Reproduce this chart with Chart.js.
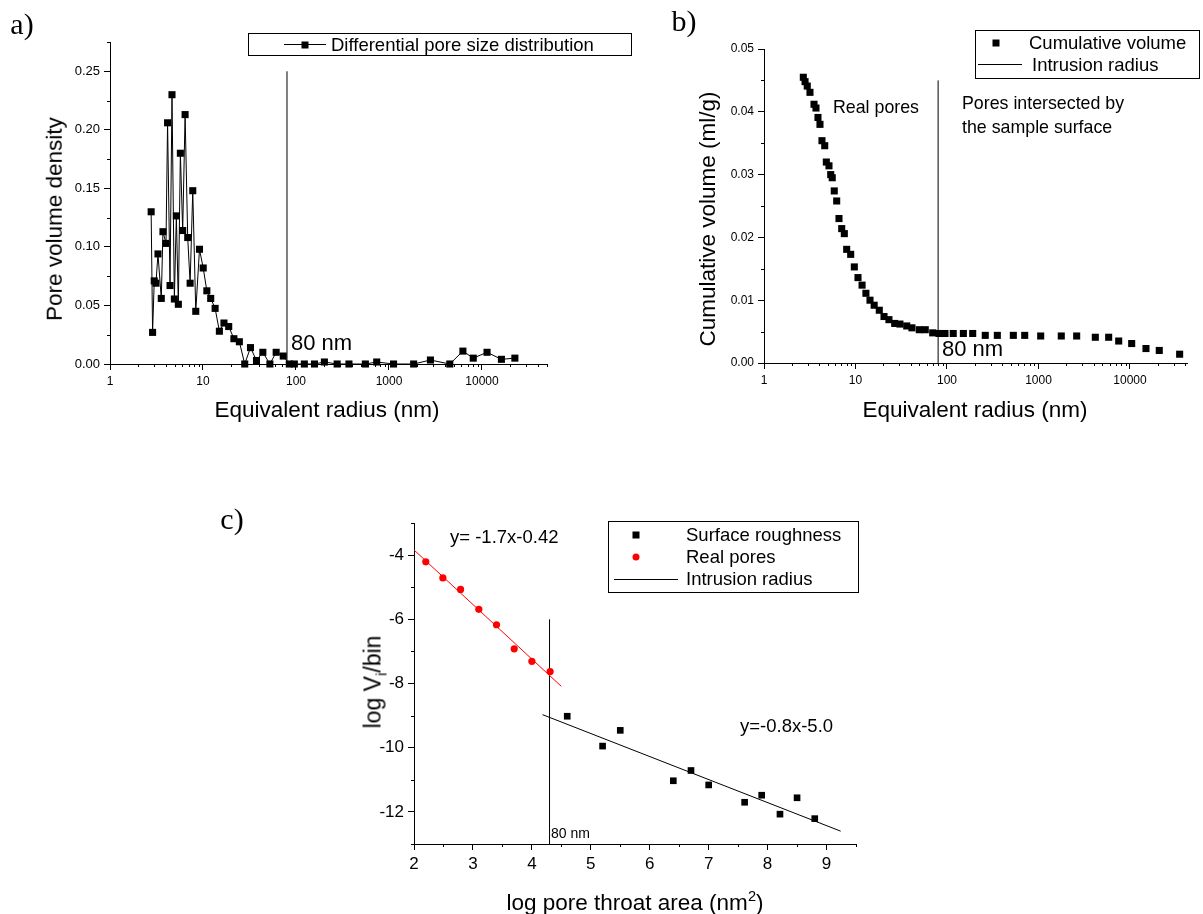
<!DOCTYPE html>
<html>
<head>
<meta charset="utf-8">
<script src="https://cdn.jsdelivr.net/npm/chart.js@4.4.1/dist/chart.umd.min.js"></script>
<style>
  body { margin: 0; background: #fff; }
  #page { position: relative; width: 1203px; height: 914px; overflow: hidden;
          font-family: "Liberation Sans", Arial, sans-serif; color: #000; }
  canvas { position: absolute; }
  .t { position: absolute; white-space: nowrap; line-height: 1; }
  .c { transform: translate(-50%, -50%); }
  .l { transform: translateY(-50%); }
  .rot { transform: translate(-50%, -50%) rotate(-90deg); }
  .panel { font-family: "Liberation Serif", "Times New Roman", serif; font-size: 30px; }
  .box { position: absolute; border: 1px solid #000; box-sizing: border-box; }
  .sq { position: absolute; width: 7px; height: 7px; background: #000; transform: translate(-50%, -50%); }
  .dot { position: absolute; width: 7px; height: 7px; border-radius: 50%; background: #f00; transform: translate(-50%, -50%); }
  .ln { position: absolute; height: 1px; background: #000; }
  sub, sup { font-size: 65%; line-height: 0; }
</style>
</head>
<body>
<div id="page">
  <canvas id="chartA" width="600" height="440" style="left:0;top:0"></canvas>
  <canvas id="chartB" width="603" height="440" style="left:600px;top:0"></canvas>
  <canvas id="chartC" width="700" height="434" style="left:200px;top:480px"></canvas>

  <!-- panel letters -->
  <div class="t c panel" style="left:22px;top:24px">a)</div>
  <div class="t c panel" style="left:684px;top:21px">b)</div>
  <div class="t c panel" style="left:232px;top:519px">c)</div>

  <!-- axis titles -->
  <div class="t rot" style="left:55px;top:219px;font-size:22.5px">Pore volume density</div>
  <div class="t c" style="left:327px;top:410px;font-size:22.5px">Equivalent radius (nm)</div>
  <div class="t rot" style="left:708px;top:219px;font-size:22.5px">Cumulative volume (ml/g)</div>
  <div class="t c" style="left:975px;top:410px;font-size:22.5px">Equivalent radius (nm)</div>
  <div class="t rot" style="left:373px;top:682px;font-size:23px">log V<sub>i</sub>/bin</div>
  <div class="t c" style="left:635px;top:903px;font-size:22.5px">log pore throat area (nm<sup>2</sup>)</div>

  <!-- annotations -->
  <div class="t l" style="left:291px;top:343px;font-size:22px">80 nm</div>
  <div class="t l" style="left:942px;top:349px;font-size:22px">80 nm</div>
  <div class="t l" style="left:833px;top:108px;font-size:17.8px">Real pores</div>
  <div class="t l" style="left:962px;top:104px;font-size:17.8px">Pores intersected by</div>
  <div class="t l" style="left:962px;top:128px;font-size:17.8px">the sample surface</div>
  <div class="t l" style="left:450px;top:537px;font-size:18.5px">y= -1.7x-0.42</div>
  <div class="t l" style="left:740px;top:726px;font-size:18.5px">y=-0.8x-5.0</div>
  <div class="t l" style="left:551px;top:833px;font-size:14px">80 nm</div>

  <!-- legend a -->
  <div class="box" style="left:248px;top:33px;width:384px;height:23px"></div>
  <div class="ln" style="left:284px;top:44px;width:42px"></div>
  <div class="sq" style="left:305px;top:44.5px"></div>
  <div class="t l" style="left:331px;top:44.5px;font-size:18.5px">Differential pore size distribution</div>

  <!-- legend b -->
  <div class="box" style="left:975px;top:30px;width:225px;height:49px"></div>
  <div class="sq" style="left:996px;top:43px"></div>
  <div class="t l" style="left:1029px;top:43px;font-size:18.5px">Cumulative volume</div>
  <div class="ln" style="left:978px;top:64px;width:44px"></div>
  <div class="t l" style="left:1032px;top:65px;font-size:18.5px">Intrusion radius</div>

  <!-- legend c -->
  <div class="box" style="left:608px;top:521px;width:251px;height:72px"></div>
  <div class="sq" style="left:636px;top:535px"></div>
  <div class="t l" style="left:686px;top:535px;font-size:18.5px">Surface roughness</div>
  <div class="dot" style="left:636px;top:557px"></div>
  <div class="t l" style="left:686px;top:557px;font-size:18.5px">Real pores</div>
  <div class="ln" style="left:614px;top:579px;width:64px"></div>
  <div class="t l" style="left:686px;top:579px;font-size:18.5px">Intrusion radius</div>
</div>

<script>
const FONT = '"Liberation Sans", Arial, sans-serif';

// a) differential pore size distribution
const aRadius = [2.77, 2.87, 2.99, 3.12, 3.28, 3.56, 3.71, 4.00, 4.16, 4.42, 4.64, 4.92, 5.17, 5.43, 5.71,
  6.05, 6.42, 6.85, 7.27, 7.76, 8.36, 9.17, 10.05, 11.0, 12.1, 13.5, 15.0, 16.8, 18.9, 21.5, 24.6, 28.1,
  32.4, 37.6, 44.0, 52.4, 61.2, 72.9, 84.7, 96, 123, 158, 202, 277, 371, 557, 738, 1119, 1841, 2789,
  4506, 6233, 8054, 11330, 16170, 22570];
const aDensity = [0.130, 0.027, 0.071, 0.069, 0.094, 0.056, 0.113, 0.103, 0.206, 0.067, 0.230, 0.0555,
  0.1265, 0.051, 0.180, 0.114, 0.213, 0.108, 0.069, 0.148, 0.045, 0.098, 0.082, 0.0625, 0.056, 0.0475,
  0.028, 0.035, 0.032, 0.0216, 0.019, 0, 0.014, 0.003, 0.010, 0, 0.010, 0.0068, 0, 0, 0, 0, 0.0017, 0, 0,
  0, 0.0017, 0, 0, 0.0034, 0, 0.011, 0.005, 0.010, 0.004, 0.005];

// b) cumulative volume
const bRadius = [2.69, 2.81, 2.97, 3.18, 3.52, 3.70, 3.89, 4.09, 4.30, 4.61, 4.80, 5.13, 5.36, 5.57, 5.86,
  6.23, 6.60, 7.07, 7.55, 8.01, 8.86, 9.71, 10.65, 11.8, 13.0, 14.4, 16.0, 18.2, 20.5, 23.2, 26.8, 30.6,
  36.3, 41.4, 49.8, 57.9, 69.8, 81.8, 95.1, 117, 151, 191, 262, 355, 531, 707, 1057, 1775, 2615, 4180,
  5850, 7530, 10440, 14960, 20900, 34900];
const bVolume = [0.0455, 0.0448, 0.0441, 0.0431, 0.0412, 0.0406, 0.0391, 0.0380, 0.0354, 0.0346, 0.0320,
  0.0314, 0.0300, 0.0295, 0.0274, 0.0258, 0.0230, 0.0214, 0.0206, 0.0181, 0.0173, 0.0153, 0.0136, 0.0124,
  0.0111, 0.0100, 0.0092, 0.0084, 0.0074, 0.0069, 0.0063, 0.0062, 0.0059, 0.0056, 0.0053, 0.0053, 0.0048,
  0.0047, 0.0047, 0.0047, 0.0047, 0.0047, 0.0044, 0.0044, 0.0044, 0.0044, 0.0043, 0.0043, 0.0043, 0.0041,
  0.0041, 0.0035, 0.0031, 0.0023, 0.0020, 0.0014];

// c) log V / bin vs log pore throat area
const roughArea = [4.60, 5.20, 5.50, 6.40, 6.70, 7.00, 7.61, 7.90, 8.21, 8.50, 8.80];
const roughLogV = [-9.02, -9.95, -9.46, -11.03, -10.71, -11.16, -11.70, -11.48, -12.07, -11.56, -12.21];
const poreArea = [2.20, 2.49, 2.79, 3.10, 3.40, 3.70, 4.00, 4.31];
const poreLogV = [-4.21, -4.71, -5.07, -5.69, -6.17, -6.92, -7.31, -7.63];
const poreFitX = [2.0, 4.5];
const poreFitY = [-3.84, -8.09];
const roughFitX = [4.18, 9.24];
const roughFitY = [-8.97, -12.6];

// intrusion radius lines
const intrusionRadius = 80;
const aIntrusionY = [0, 0.25];
const bIntrusionY = [0, 0.045];
const cIntrusionX = 4.3;
const cIntrusionY = [-13, -6];

// tick labels
const radiusTicks = [1, 10, 100, 1000, 10000];
const densityTicks = [0, 0.05, 0.10, 0.15, 0.20, 0.25];
const densityMinor = [0.025, 0.075, 0.125, 0.175, 0.225, 0.275];
const volumeTicks = [0, 0.01, 0.02, 0.03, 0.04, 0.05];
const volumeMinor = [0.005, 0.015, 0.025, 0.035, 0.045];
const areaTicks = [2, 3, 4, 5, 6, 7, 8, 9];
const areaMinor = [2.5, 3.5, 4.5, 5.5, 6.5, 7.5, 8.5, 9.5];
const logVTicks = [-12, -10, -8, -6, -4];
const logVMinor = [-13, -11, -9, -7, -5, -3];

const pts = (xs, ys) => xs.map((x, i) => ({x: x, y: ys[i]}));
const vline = (x, ys) => ys.map(y => ({x: x, y: y}));

function logMinor(max) {
  const out = [];
  for (let d = 1; d <= max; d *= 10) {
    for (let k = 2; k <= 9; k++) if (k * d <= max) out.push(k * d);
  }
  return out;
}

// short minor ticks drawn with the chart's own scales
const minorTicks = {
  id: 'minorTicks',
  afterDraw(chart, args, opts) {
    const ctx = chart.ctx;
    ctx.save();
    ctx.strokeStyle = '#000';
    ctx.lineWidth = 1;
    ctx.beginPath();
    Object.keys(opts.scales || {}).forEach(id => {
      const s = chart.scales[id];
      opts.scales[id].forEach(v => {
        if (s.isHorizontal()) {
          const x = Math.round(s.getPixelForValue(v)) + 0.5;
          ctx.moveTo(x, s.top);
          ctx.lineTo(x, s.top + opts.length);
        } else {
          const y = Math.round(s.getPixelForValue(v)) + 0.5;
          ctx.moveTo(s.right - opts.length, y);
          ctx.lineTo(s.right, y);
        }
      });
    });
    ctx.stroke();
    ctx.restore();
  }
};

function axis(opts) {
  return {
    type: opts.type || 'linear',
    min: opts.min,
    max: opts.max,
    border: {display: true, color: '#000', width: 1},
    grid: {drawOnChartArea: false, drawTicks: true, tickLength: 6, color: '#000'},
    ticks: {color: '#000', font: {family: FONT, size: opts.size}, padding: 4,
            autoSkip: false, maxRotation: 0, callback: opts.format},
    afterBuildTicks: s => { s.ticks = opts.ticks.map(v => ({value: v})); },
    afterFit: s => {
      if (opts.width) s.width = opts.width;
      if (opts.height) s.height = opts.height;
    }
  };
}

const baseOptions = (padding, minor, scales) => ({
  responsive: false,
  animation: false,
  layout: {padding: padding},
  plugins: {legend: {display: false}, tooltip: {enabled: false},
            minorTicks: {length: 3, scales: minor}},
  scales: scales
});

new Chart(document.getElementById('chartA'), {
  type: 'scatter',
  data: {
    datasets: [
      {
        label: 'Differential pore size distribution',
        data: pts(aRadius, aDensity),
        showLine: true,
        borderColor: '#000',
        borderWidth: 1,
        pointStyle: 'rect',
        pointRadius: 5,
        pointBackgroundColor: '#000',
        pointBorderWidth: 0,
        clip: false
      },
      {
        label: 'Intrusion radius',
        data: vline(intrusionRadius, aIntrusionY),
        showLine: true,
        borderColor: '#000',
        borderWidth: 1,
        pointRadius: 0
      }
    ]
  },
  options: baseOptions({left: 0, top: 42, right: 53, bottom: 0},
    {x: logMinor(50000), y: densityMinor},
    {
      x: axis({type: 'logarithmic', min: 1, max: 50000, ticks: radiusTicks, size: 12,
               format: v => String(v), height: 76}),
      y: axis({min: 0, max: 0.275, ticks: densityTicks, size: 13,
               format: v => v.toFixed(2), width: 110})
    }),
  plugins: [minorTicks]
});

new Chart(document.getElementById('chartB'), {
  type: 'scatter',
  data: {
    datasets: [
      {
        label: 'Cumulative volume',
        data: pts(bRadius, bVolume),
        pointStyle: 'rect',
        pointRadius: 5,
        pointBackgroundColor: '#000',
        pointBorderWidth: 0,
        clip: false
      },
      {
        label: 'Intrusion radius',
        data: vline(intrusionRadius, bIntrusionY),
        showLine: true,
        borderColor: '#000',
        borderWidth: 1,
        pointRadius: 0
      }
    ]
  },
  options: baseOptions({left: 0, top: 49, right: 16, bottom: 0},
    {x: logMinor(42000), y: volumeMinor},
    {
      x: axis({type: 'logarithmic', min: 1, max: 42000, ticks: radiusTicks, size: 12,
               format: v => String(v), height: 77}),
      y: axis({min: 0, max: 0.05, ticks: volumeTicks, size: 12,
               format: v => v.toFixed(2), width: 164})
    }),
  plugins: [minorTicks]
});

new Chart(document.getElementById('chartC'), {
  type: 'scatter',
  data: {
    datasets: [
      {
        label: 'Surface roughness',
        data: pts(roughArea, roughLogV),
        pointStyle: 'rect',
        pointRadius: 4.7,
        pointBackgroundColor: '#000',
        pointBorderWidth: 0
      },
      {
        label: 'Real pores',
        data: pts(poreArea, poreLogV),
        pointStyle: 'circle',
        pointRadius: 3.6,
        pointBackgroundColor: '#f00',
        pointBorderWidth: 0
      },
      {
        label: 'Real pores fit',
        data: pts(poreFitX, poreFitY),
        showLine: true,
        borderColor: '#f00',
        borderWidth: 1,
        pointRadius: 0
      },
      {
        label: 'Surface roughness fit',
        data: pts(roughFitX, roughFitY),
        showLine: true,
        borderColor: '#000',
        borderWidth: 1,
        pointRadius: 0
      },
      {
        label: 'Intrusion radius',
        data: vline(cIntrusionX, cIntrusionY),
        showLine: true,
        borderColor: '#000',
        borderWidth: 1,
        pointRadius: 0
      }
    ]
  },
  options: baseOptions({left: 0, top: 43, right: 44, bottom: 0},
    {x: areaMinor, y: logVMinor},
    {
      x: axis({min: 2, max: 9.5, ticks: areaTicks, size: 17,
               format: v => String(v), height: 70}),
      y: axis({min: -13, max: -3, ticks: logVTicks, size: 17,
               format: v => String(v), width: 214})
    }),
  plugins: [minorTicks]
});
</script>
</body>
</html>
